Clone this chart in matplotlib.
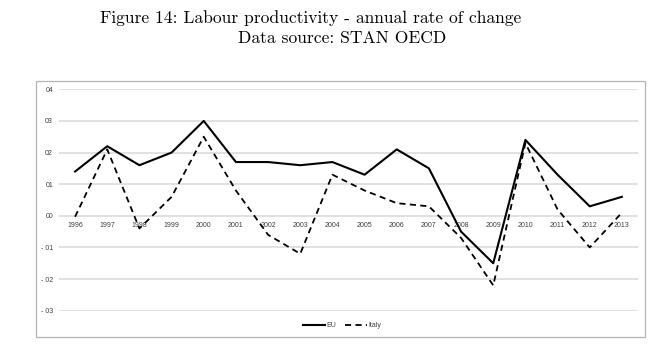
import matplotlib
matplotlib.use('Agg')
import matplotlib.pyplot as plt
import numpy as np
from matplotlib.patches import Rectangle

# data
years = ['1996', '1997', '1998', '1999', '2000', '2001', '2002', '2003', '2004',
         '2005', '2006', '2007', '2008', '2009', '2010', '2011', '2012', '2013']
eu = [0.014, 0.022, 0.016, 0.020, 0.030, 0.017, 0.017, 0.016, 0.017,
      0.013, 0.021, 0.015, -0.005, -0.015, 0.024, 0.013, 0.003, 0.006]
italy = [-0.0003, 0.021, -0.004, 0.006, 0.025, 0.008, -0.006, -0.012, 0.013,
         0.008, 0.004, 0.003, -0.007, -0.022, 0.023, 0.002, -0.010, 0.001]
yticks = [0.04, 0.03, 0.02, 0.01, 0.0, -0.01, -0.02, -0.03]
ytick_labels = ['04', '03', '02', '01', '00', '- 01', '- 02', '- 03']

fig = plt.figure(figsize=(6.59, 3.53), dpi=100)

# titles (LaTeX-like serif)
fig.text(311 / 659, 1 - 18 / 353, 'Figure 14: Labour productivity - annual rate of change',
         ha='center', va='center', family='cmr10', fontsize=12.6)
fig.text(342 / 659, 1 - 38 / 353, 'Data source: STAN OECD',
         ha='center', va='center', family='cmr10', fontsize=12.6)

# outer chart frame
fig.patches.append(Rectangle((36 / 659, 1 - 337 / 353), 609 / 659, 256 / 353,
                             transform=fig.transFigure, fill=False,
                             edgecolor='#b4b4b4', linewidth=0.9))

ax = fig.add_axes([59 / 659, 1 - 310.7 / 353, 579 / 659, 221.4 / 353])
x = np.arange(len(years))
ax.plot(x, eu, color='black', linewidth=1.5, label='EU', zorder=3)
ax.plot(x, italy, color='black', linewidth=1.3, linestyle=(0, (3.4, 2.4)),
        label='Italy', zorder=3)

ax.set_xlim(-0.5, len(years) - 0.5)
ax.set_ylim(-0.03, 0.04)
ax.set_yticks(yticks)
ax.set_yticklabels(ytick_labels)
ax.set_xticks(x)
ax.set_xticklabels(years)
ax.grid(axis='y', color='#d9d9d9', linewidth=1.1, zorder=0)
ax.set_axisbelow(True)
for side in ['top', 'right', 'left']:
    ax.spines[side].set_visible(False)
ax.spines['bottom'].set_position(('data', 0))
ax.spines['bottom'].set_color('none')
ax.tick_params(axis='both', length=0, labelsize=5, labelcolor='#404040')
ax.tick_params(axis='y', pad=4.3)
ax.tick_params(axis='x', pad=4.5)
for lbl in ax.get_xticklabels() + ax.get_yticklabels():
    lbl.set_family('Liberation Sans')

leg = fig.legend(loc='center', bbox_to_anchor=(342 / 659, 1 - 325.7 / 353), ncol=2,
                 frameon=False, fontsize=5, handlelength=3.2, handletextpad=0.2,
                 columnspacing=1.2, prop={'family': 'Liberation Sans', 'size': 5})
for t in leg.get_texts():
    t.set_color('#404040')

fig.savefig('out.png', dpi=100)
